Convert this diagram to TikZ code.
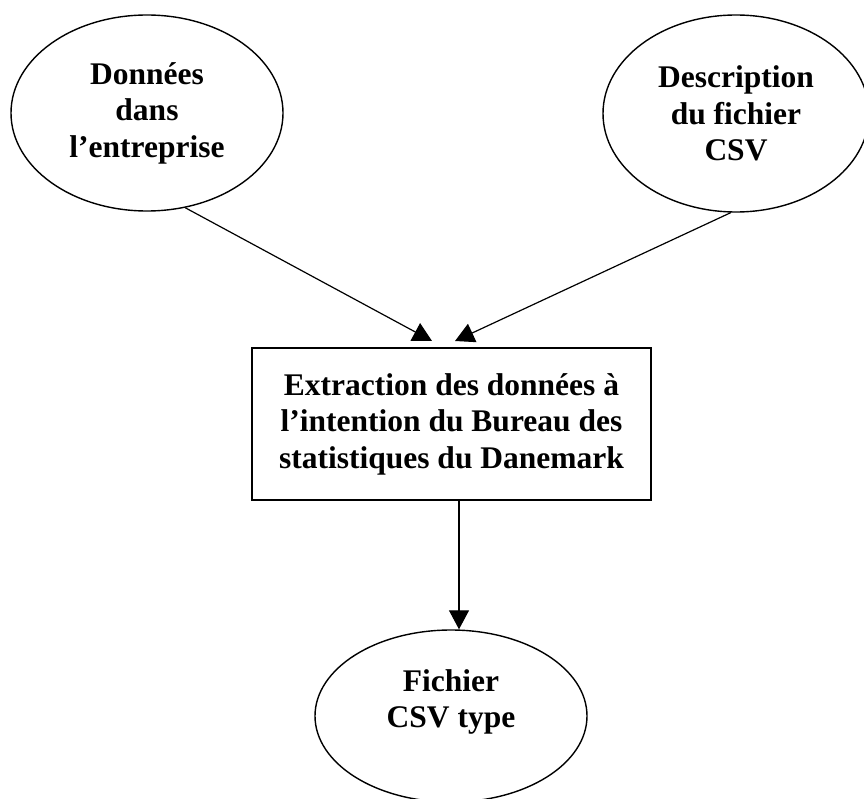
\documentclass[tikz,border=0pt]{standalone}
\usepackage{fontspec}
\setmainfont{Liberation Serif}
\usetikzlibrary{shapes.geometric,arrows.meta,calc}
\begin{document}
\begin{tikzpicture}[x=1pt,y=-1pt,
  txt/.style={font=\fontsize{31.5}{36.5}\selectfont\bfseries, align=center, inner sep=0pt},
  oval/.style={ellipse, draw, line width=1.4pt, inner sep=0pt},
  boxnode/.style={rectangle, draw, line width=1.5pt, inner sep=0pt},
  arr/.style={line width=1.2pt, -{Triangle[length=19pt,width=20pt]}}]
\useasboundingbox (0,0) rectangle (864,799);
\clip (0,0) rectangle (864,799);
\node[oval, txt, minimum width=272pt, minimum height=196pt] (e1) at (147,113)
  {Données\\dans\\l’entreprise};
\node[oval, txt, minimum width=266pt, minimum height=197pt] (e2) at (736,113.5)
  {Description\\du fichier\\CSV};
\node[boxnode, txt, minimum width=399pt, minimum height=152pt] (box) at (451.5,424)
  {Extraction des données à\\l’intention du Bureau des\\statistiques du Danemark};
\node[oval, minimum width=272pt, minimum height=172pt] (e3) at (451,716) {};
\node[txt] (t3) at (451,702) {Fichier\\CSV type};
\coordinate (tipL) at (432,341);
\coordinate (tipR) at (455,341);
\coordinate (vx) at (459,0);
\draw[arr] (e1.-68) -- (tipL);
\draw[arr] (e2.-93.5) -- (tipR);
\draw[arr] (box.south -| vx) -- (e3.north -| vx);
\end{tikzpicture}
\end{document}
